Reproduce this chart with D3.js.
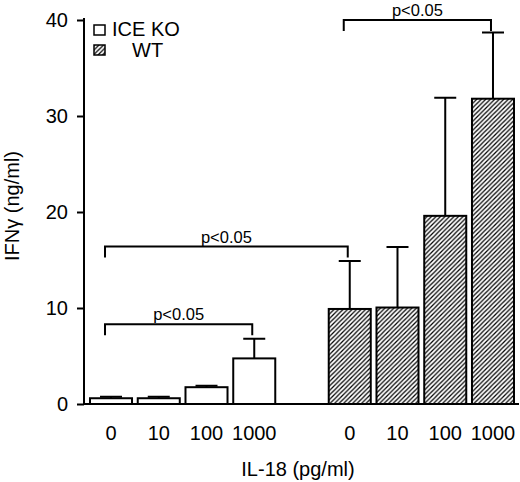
<!DOCTYPE html>
<html>
<head>
<meta charset="utf-8">
<script src="https://cdn.jsdelivr.net/npm/d3@7"></script>
<style>
  body { margin: 0; background: #fff; }
  svg text { font-family: "Liberation Sans", Arial, Helvetica, sans-serif; fill: #000; }
</style>
</head>
<body>
<div id="chart"></div>
<script>
// IL-18 doses (pg/ml), shown under each group of bars
var doses = ["0", "10", "100", "1000"];
var groups = ["ICE KO", "WT"];

// IFN-gamma (ng/ml), mean and SD
var koMeans = [0.6, 0.6, 1.75, 4.75];
var koErrors = [0.15, 0.15, 0.15, 2.05];
var wtMeans = [9.9, 10.05, 19.6, 31.8];
var wtErrors = [5.0, 6.3, 12.3, 6.9];

var yTicks = [0, 10, 20, 30, 40];

// significance brackets: from bar, to bar, level (ng/ml), label
var bracketFrom = ["ICE KO-0", "ICE KO-0", "WT-0"];
var bracketTo = ["ICE KO-1000", "WT-0", "WT-1000"];
var bracketLevels = [8.3, 16.4, 40];
var bracketLabels = ["p<0.05", "p<0.05", "p<0.05"];

var width = 520, height = 482;

var svg = d3.select("#chart").append("svg")
    .attr("width", width)
    .attr("height", height);

// diagonal hatch for WT bars
var hs = 4.5;
var defs = svg.append("defs");
var hatch = defs.append("pattern")
    .attr("id", "hatch")
    .attr("patternUnits", "userSpaceOnUse")
    .attr("width", hs)
    .attr("height", hs);
hatch.append("rect").attr("width", hs).attr("height", hs).attr("fill", "#fff");
hatch.append("path")
    .attr("d", "M-1,1 l2,-2 M0," + hs + " l" + hs + "," + (-hs) + " M" + (hs - 1) + "," + (hs + 1) + " l2,-2")
    .attr("stroke", "#000")
    .attr("stroke-width", 1.25);

// build bar list, with an empty slot between the two groups
var bars = [];
doses.forEach(function(d, i) {
    bars.push({ key: groups[0] + "-" + d, dose: d, group: groups[0], mean: koMeans[i], err: koErrors[i] });
});
doses.forEach(function(d, i) {
    bars.push({ key: groups[1] + "-" + d, dose: d, group: groups[1], mean: wtMeans[i], err: wtErrors[i] });
});
var slots = bars.slice(0, 4).map(function(b) { return b.key; })
    .concat(["gap"])
    .concat(bars.slice(4).map(function(b) { return b.key; }));

var x = d3.scaleBand()
    .domain(slots)
    .range([90, 514])
    .paddingInner(0.12)
    .paddingOuter(0);

var y = d3.scaleLinear()
    .domain([0, 40])
    .range([404, 20]);

var axisX = 84;

// text helper
function addText(parent, tx, ty, str, anchor, size, rot) {
    var t = "translate(" + tx + "," + ty + ")" + (rot ? " rotate(" + rot + ")" : "");
    return parent.append("text")
        .attr("transform", t)
        .attr("text-anchor", anchor)
        .attr("font-size", size)
        .text(str);
}

// bars
svg.selectAll(".bar")
    .data(bars)
    .enter()
    .append("rect")
    .attr("class", "bar")
    .attr("x", function(d) { return x(d.key); })
    .attr("width", x.bandwidth())
    .attr("y", function(d) { return y(d.mean); })
    .attr("height", function(d) { return y(0) - y(d.mean); })
    .attr("fill", function(d) { return d.group == groups[0] ? "#fff" : "url(#hatch)"; })
    .attr("stroke", "#000")
    .attr("stroke-width", 2);

// error bars (upper only)
var capW = 22;
svg.selectAll(".err")
    .data(bars)
    .enter()
    .append("path")
    .attr("class", "err")
    .attr("d", function(d) {
        var cx = x(d.key) + x.bandwidth() / 2;
        return "M" + cx + "," + y(d.mean) + "V" + y(d.mean + d.err) +
            "M" + (cx - capW / 2) + "," + y(d.mean + d.err) + "H" + (cx + capW / 2);
    })
    .attr("fill", "none")
    .attr("stroke", "#000")
    .attr("stroke-width", 2);

// y axis
var yAxis = d3.axisLeft(y)
    .tickValues(yTicks)
    .tickSize(7)
    .tickSizeOuter(0)
    .tickFormat("");
var gy = svg.append("g")
    .attr("transform", "translate(" + axisX + ",0)")
    .call(yAxis);
gy.select(".domain").attr("stroke-width", 2).attr("d", "M0," + (y(40) - 2) + "V" + (y(0) + 1));
gy.selectAll(".tick line").attr("stroke-width", 2);
yTicks.forEach(function(t) {
    addText(svg, axisX - 16, y(t) + 7, String(t), "end", 20);
});

// baseline
svg.append("line")
    .attr("x1", axisX)
    .attr("x2", 519)
    .attr("y1", y(0))
    .attr("y2", y(0))
    .attr("stroke", "#000")
    .attr("stroke-width", 2);

// dose labels under bars
bars.forEach(function(b) {
    addText(svg, x(b.key) + x.bandwidth() / 2, 440, b.dose, "middle", 20);
});

// axis titles
addText(svg, 298, 476, "IL-18 (pg/ml)", "middle", 20);
addText(svg, 19, 206, "IFN\u03b3 (ng/ml)", "middle", 20, -90);

// significance brackets
bracketFrom.forEach(function(from, i) {
    var x1 = x(from) + x.bandwidth() / 2 - 6;
    var x2 = x(bracketTo[i]) + x.bandwidth() / 2 - 2;
    var yl = y(bracketLevels[i]);
    var drop = 11;
    svg.append("path")
        .attr("d", "M" + x1 + "," + (yl + drop) + "V" + yl + "H" + x2 + "V" + (yl + drop))
        .attr("fill", "none")
        .attr("stroke", "#000")
        .attr("stroke-width", 2);
    addText(svg, (x1 + x2) / 2, yl - 4, bracketLabels[i], "middle", 16.5);
});

// legend
var legend = svg.append("g");
groups.forEach(function(g, i) {
    legend.append("rect")
        .attr("x", 94)
        .attr("y", 25 + i * 20)
        .attr("width", 11)
        .attr("height", 10)
        .attr("fill", i == 0 ? "#fff" : "url(#hatch)")
        .attr("stroke", "#000")
        .attr("stroke-width", 1.5);
});
addText(legend, 112, 36, groups[0], "start", 20);
addText(legend, 132, 57, groups[1], "start", 20);
</script>
</body>
</html>
